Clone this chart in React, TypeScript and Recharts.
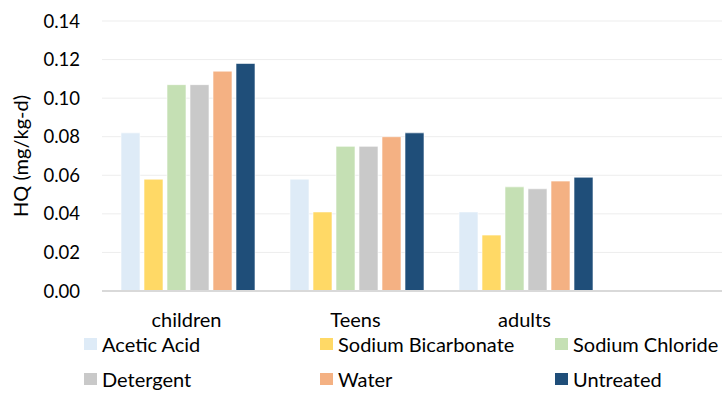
import { BarChart, Bar, XAxis, YAxis, CartesianGrid } from 'recharts';

const groups = ['children', 'Teens', 'adults'];

const aceticAcid = [0.082, 0.058, 0.041];
const sodiumBicarbonate = [0.058, 0.041, 0.029];
const sodiumChloride = [0.107, 0.075, 0.054];
const detergent = [0.107, 0.075, 0.053];
const water = [0.114, 0.080, 0.057];
const untreated = [0.118, 0.082, 0.059];

const yTicks = [0, 0.02, 0.04, 0.06, 0.08, 0.1, 0.12, 0.14];

const series = [
  { key: 'acetic', name: 'Acetic Acid', values: aceticAcid, color: '#DEEBF7' },
  { key: 'bicarb', name: 'Sodium Bicarbonate', values: sodiumBicarbonate, color: '#FFD966' },
  { key: 'chloride', name: 'Sodium Chloride', values: sodiumChloride, color: '#C5E0B4' },
  { key: 'detergent', name: 'Detergent', values: detergent, color: '#C9C9C9' },
  { key: 'water', name: 'Water', values: water, color: '#F4B183' },
  { key: 'untreated', name: 'Untreated', values: untreated, color: '#1F4E79' },
];

const chartData = groups.map((g, i) => {
  const row: Record<string, string | number> = { group: g };
  series.forEach(s => { row[s.key] = s.values[i]; });
  return row;
});

const FONT = 'Lato, "Open Sans", sans-serif';

// Excel-style legend: 3 columns, 2 rows, under the x labels
function LegendBox() {
  const colLeft = [84, 320, 555];
  return (
    <div style={{ position: 'absolute', left: 0, top: 333, width: 722, height: 60, fontFamily: FONT, fontSize: 20, color: '#000' }}>
      {series.map((s, i) => (
        <div
          key={s.key}
          style={{
            position: 'absolute',
            left: colLeft[i % 3],
            top: Math.floor(i / 3) * 35,
            display: 'flex',
            alignItems: 'center',
            whiteSpace: 'nowrap',
            height: 22,
          }}
        >
          <span style={{ width: 13, height: 12, background: s.color, marginRight: 5, display: 'inline-block' }} />
          <span>{s.name}</span>
        </div>
      ))}
    </div>
  );
}

export default function App() {
  return (
    <div style={{ position: 'fixed', left: 0, top: 0, width: 722, height: 394, background: '#fff', overflow: 'hidden' }}>
      <BarChart
        width={722}
        height={394}
        data={chartData}
        margin={{ top: 21, right: 0, bottom: 73, left: 0 }}
        barCategoryGap={19}
        barGap={4}
      >
        <CartesianGrid vertical={false} stroke="#EDEDED" />
        <XAxis
          dataKey="group"
          height={30}
          padding={{ left: 0, right: 113 }}
          tickLine={false}
          axisLine={{ stroke: '#D9D9D9', strokeWidth: 2 }}
          tick={{ fill: '#000', fontSize: 20, fontFamily: FONT }}
          tickSize={0}
          tickMargin={22}
          interval={0}
        />
        <YAxis
          width={102}
          domain={[0, 0.14]}
          ticks={yTicks}
          interval={0}
          tickFormatter={(v: number) => v.toFixed(2)}
          tickLine={false}
          axisLine={false}
          tickSize={0}
          tickMargin={22}
          tick={{ fill: '#000', fontSize: 18.5, fontFamily: FONT }}
          label={{
            value: 'HQ (mg/kg-d)',
            angle: -90,
            position: 'insideLeft',
            offset: 21,
            style: { textAnchor: 'middle', fill: '#000', fontSize: 20, fontFamily: FONT },
          }}
        />
        {series.map(s => (
          <Bar
            key={s.key}
            dataKey={s.key}
            name={s.name}
            fill={s.color}
            stroke="#FFFFFF"
            strokeOpacity={0.6}
            isAnimationActive={false}
          />
        ))}
      </BarChart>
      <LegendBox />
    </div>
  );
}
